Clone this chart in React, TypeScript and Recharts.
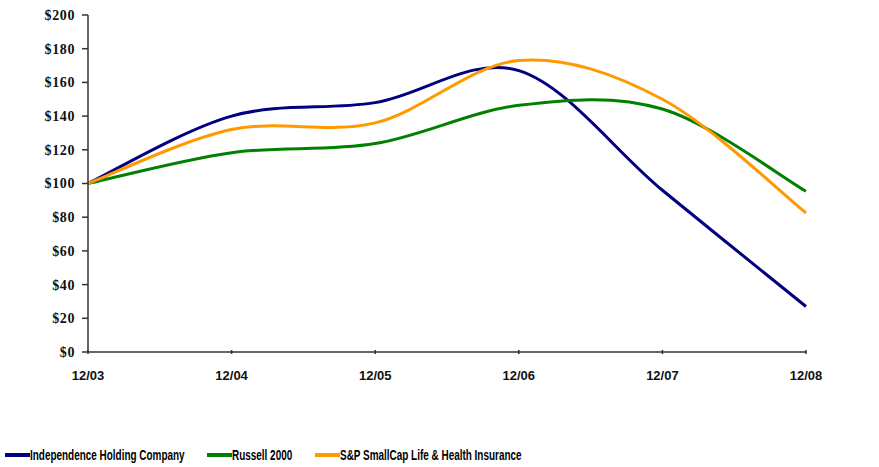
import { LineChart, Line, XAxis, YAxis, Legend } from 'recharts'

document.body.style.margin = '0'

const years = ['12/03', '12/04', '12/05', '12/06', '12/07', '12/08']
const ihc = [100, 140, 148, 167, 96, 27]
const russell = [100, 118.3, 123.7, 146.4, 144.2, 95.4]
const snp = [100, 132, 136, 173, 150, 82.5]
const yTicks = [0, 20, 40, 60, 80, 100, 120, 140, 160, 180, 200]

const SERIES = [
  { key: 'ihc', name: 'Independence Holding Company', color: '#000080', left: 5 },
  { key: 'russell', name: 'Russell 2000', color: '#008000', left: 207 },
  { key: 'snp', name: 'S&P SmallCap Life & Health Insurance', color: '#FF9900', left: 315 },
]

const data = years.map((y, i) => ({ year: y, ihc: ihc[i], russell: russell[i], snp: snp[i] }))

const AXIS_COLOR = '#333'

// excel-ish smoothing (catmull-rom through every point)
function smoothCurve(context: any) {
  let pts: number[][] = []
  return {
    areaStart() {},
    areaEnd() {},
    lineStart() { pts = [] },
    point(x: number, y: number) { pts.push([+x, +y]) },
    lineEnd() {
      if (!pts.length) return
      context.moveTo(pts[0][0], pts[0][1])
      for (let i = 0; i < pts.length - 1; i++) {
        const p0 = pts[i - 1] || pts[i]
        const p1 = pts[i]
        const p2 = pts[i + 1]
        const p3 = pts[i + 2] || p2
        context.bezierCurveTo(
          p1[0] + (p2[0] - p0[0]) / 6, p1[1] + (p2[1] - p0[1]) / 6,
          p2[0] - (p3[0] - p1[0]) / 6, p2[1] - (p3[1] - p1[1]) / 6,
          p2[0], p2[1],
        )
      }
    },
  }
}

function XTick({ x, y, payload }: any) {
  return (
    <g>
      <line x1={x} x2={x} y1={y - 4} y2={y} stroke={AXIS_COLOR} strokeWidth={1.5} />
      <text x={x} y={y + 26} textAnchor="middle" fill="#111"
        style={{ fontFamily: 'Liberation Sans, Arial, sans-serif', fontWeight: 700, fontSize: 13 }}>
        {payload.value}
      </text>
    </g>
  )
}

function LegendBox() {
  return (
    <div style={{ position: 'relative', height: 20, width: 879,
      fontFamily: '"Liberation Sans", Arial, sans-serif',
      fontWeight: 700, fontSize: 14, color: '#000' }}>
      {SERIES.map(s => (
        <div key={s.key} style={{ position: 'absolute', left: s.left, top: 0, display: 'flex', alignItems: 'center', height: 20 }}>
          <span style={{ display: 'inline-block', width: 25, height: 4, background: s.color }} />
          <span style={{ display: 'inline-block', whiteSpace: 'nowrap', transform: 'scaleX(0.71)', transformOrigin: 'left center' }}>{s.name}</span>
        </div>
      ))}
    </div>
  )
}

export default function App() {
  return (
    <LineChart width={879} height={467} data={data}
      margin={{ top: 15, right: 73, left: 0, bottom: 65 }}>
      <XAxis dataKey="year" tickLine={false} tickSize={0} tick={<XTick />} interval={0}
        axisLine={{ stroke: AXIS_COLOR, strokeWidth: 1.5 }} height={30} />
      <YAxis domain={[0, 200]} ticks={yTicks} width={88} tickSize={6} tickMargin={7}
        tickFormatter={(v: number) => `$${v}`}
        axisLine={{ stroke: AXIS_COLOR, strokeWidth: 1.5 }}
        tickLine={{ stroke: AXIS_COLOR, strokeWidth: 1.5 }}
        tick={{ fill: '#111', fontFamily: 'Liberation Serif, Times New Roman, serif', fontWeight: 700, fontSize: 14, letterSpacing: 0.6 }} />
      <Legend content={<LegendBox />} wrapperStyle={{ left: 0, top: 445, width: 879, height: 20 }} />
      {SERIES.map(s => (
        <Line key={s.key} dataKey={s.key} name={s.name} type={smoothCurve as any}
          stroke={s.color} strokeWidth={3} dot={false} isAnimationActive={false} />
      ))}
    </LineChart>
  )
}
